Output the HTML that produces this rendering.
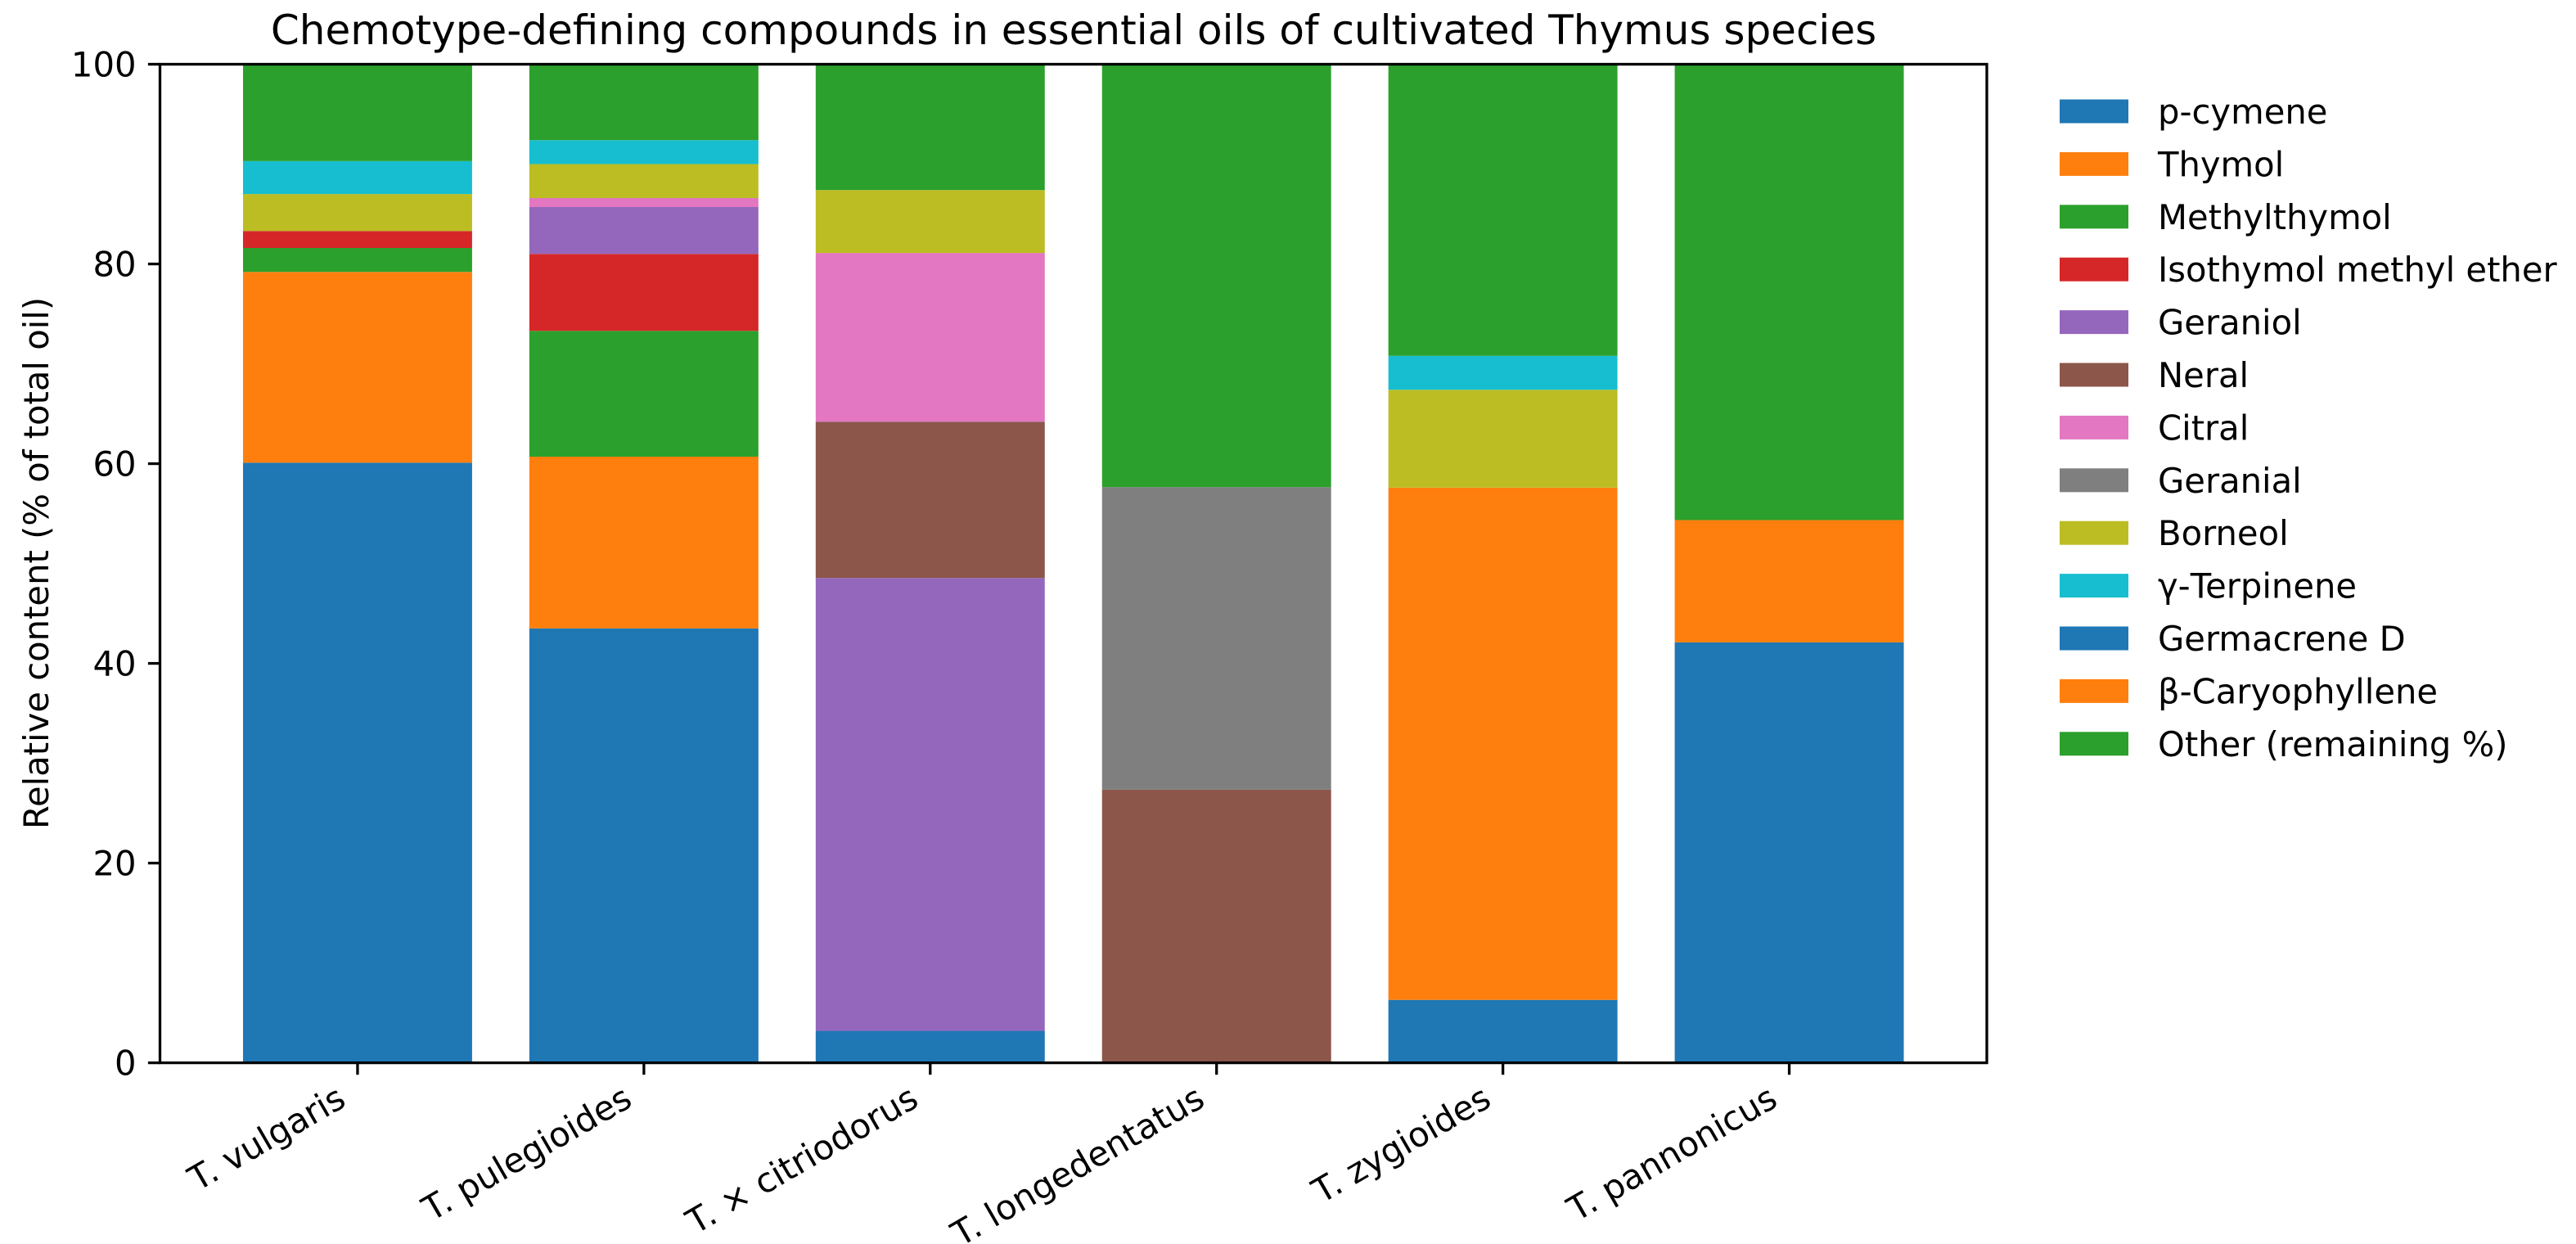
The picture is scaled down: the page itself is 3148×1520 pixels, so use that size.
<!DOCTYPE html>
<html><head><meta charset="utf-8"><style>
html,body{margin:0;padding:0;background:#fff;}
svg{display:block;font-family:"DejaVu Sans","Liberation Sans",sans-serif;}
</style></head>
<body>
<svg id="chart" width="3148" height="1520" viewBox="0 0 3148 1520" xmlns="http://www.w3.org/2000/svg">
<rect width="3148" height="1520" fill="#fff"/>
<text x="1312" y="54" font-size="50" text-anchor="middle" fill="#000">Chemotype-defining compounds in essential oils of cultivated Thymus species</text>
<text transform="translate(59,688) rotate(-90)" font-size="41.7" text-anchor="middle" fill="#000">Relative content (% of total oil)</text>
<g id="bars"></g>
<g id="axes"></g>
<g id="legend"></g>
</svg>
<script>
const categories = ["T. vulgaris","T. pulegioides","T. × citriodorus","T. longedentatus","T. zygioides","T. pannonicus"];
const compounds = ["p-cymene","Thymol","Methylthymol","Isothymol methyl ether","Geraniol","Neral","Citral","Geranial","Borneol","γ-Terpinene","Germacrene D","β-Caryophyllene","Other (remaining %)"];
const colors = ["#1f77b4","#ff7f0e","#2ca02c","#d62728","#9467bd","#8c564b","#e377c2","#7f7f7f","#bcbd22","#17becf","#1f77b4","#ff7f0e","#2ca02c"];
const pCymene      = [60.1, 43.5, 3.2, 0, 6.3, 0];
const thymol       = [19.1, 17.2, 0, 0, 51.3, 0];
const methylthymol = [2.4, 12.6, 0, 0, 0, 0];
const isothymol    = [1.7, 7.7, 0, 0, 0, 0];
const geraniol     = [0, 4.7, 45.35, 0, 0, 0];
const neral        = [0, 0, 15.65, 27.35, 0, 0];
const citral       = [0, 0.9, 16.9, 0, 0, 0];
const geranial     = [0, 0, 0, 30.3, 0, 0];
const borneol      = [3.7, 3.4, 6.3, 0, 9.8, 0];
const terpinene    = [3.3, 2.4, 0, 0, 3.4, 0];
const germacreneD  = [0, 0, 0, 0, 0, 42.1];
const caryophyllene= [0, 0, 0, 0, 0, 12.25];
const other        = [9.7, 7.6, 12.6, 42.35, 29.2, 45.65];
const yTicks = [0, 20, 40, 60, 80, 100];
const series = [pCymene, thymol, methylthymol, isothymol, geraniol, neral, citral, geranial, borneol, terpinene, germacreneD, caryophyllene, other];

const NS = "http://www.w3.org/2000/svg";
const axL = 195.5, axR = 2428, axT = 78.5, axB = 1298.6;
const xMin = -0.69, xMax = 5.69, yMin = 0, yMax = 100;
const xS = v => axL + (v - xMin) / (xMax - xMin) * (axR - axL);
const yS = v => axB - (v - yMin) / (yMax - yMin) * (axB - axT);
const barW = 0.8;
function mk(tag, attrs, parent){const e=document.createElementNS(NS,tag);for(const k in attrs)e.setAttribute(k,attrs[k]);parent.appendChild(e);return e;}

const gb = document.getElementById('bars');
categories.forEach((c, i) => {
  let base = 0;
  series.forEach((s, j) => {
    const v = s[i];
    if (v > 0) {
      const r = mk('rect', {x: xS(i - barW/2), y: yS(base + v), width: xS(i + barW/2) - xS(i - barW/2), height: yS(base) - yS(base + v), fill: colors[j]}, gb);
      
      
    }
    base += v;
  });
});

const ga = document.getElementById('axes');
const frame = mk('rect', {x: axL, y: axT, width: axR - axL, height: axB - axT, fill: 'none', stroke: '#000', 'stroke-width': 3.3}, ga);


yTicks.forEach(t => {
  const y = yS(t);
  const ln = mk('line', {x1: axL - 14.6, x2: axL, y1: y, y2: y, stroke: '#000', 'stroke-width': 3.3}, ga);
  
  
  const tx = mk('text', {x: axL - 29, y: y + 15, 'font-size': 41.7, 'text-anchor': 'end', fill: '#000'}, ga);
  tx.textContent = t;
  
  
});
categories.forEach((c, i) => {
  const x = xS(i);
  const ln = mk('line', {x1: x, x2: x, y1: axB, y2: axB + 14.6, stroke: '#000', 'stroke-width': 3.3}, ga);
  
  
  const tx = mk('text', {transform: `translate(${x - 12},${1350}) rotate(-30)`, 'font-size': 41.7, 'text-anchor': 'end', fill: '#000'}, ga);
  tx.textContent = c;
  
  
});

const gl = document.getElementById('legend');
compounds.forEach((name, j) => {
  const cy = 136 + j * 64.4;
  const g = mk('g', {}, gl);
  
  
  mk('rect', {x: 2517, y: cy - 14.5, width: 84, height: 29, fill: colors[j]}, g);
  const tx = mk('text', {x: 2637, y: cy + 15, 'font-size': 41.7, fill: '#000'}, g);
  tx.textContent = name;
});
</script>
</body></html>
